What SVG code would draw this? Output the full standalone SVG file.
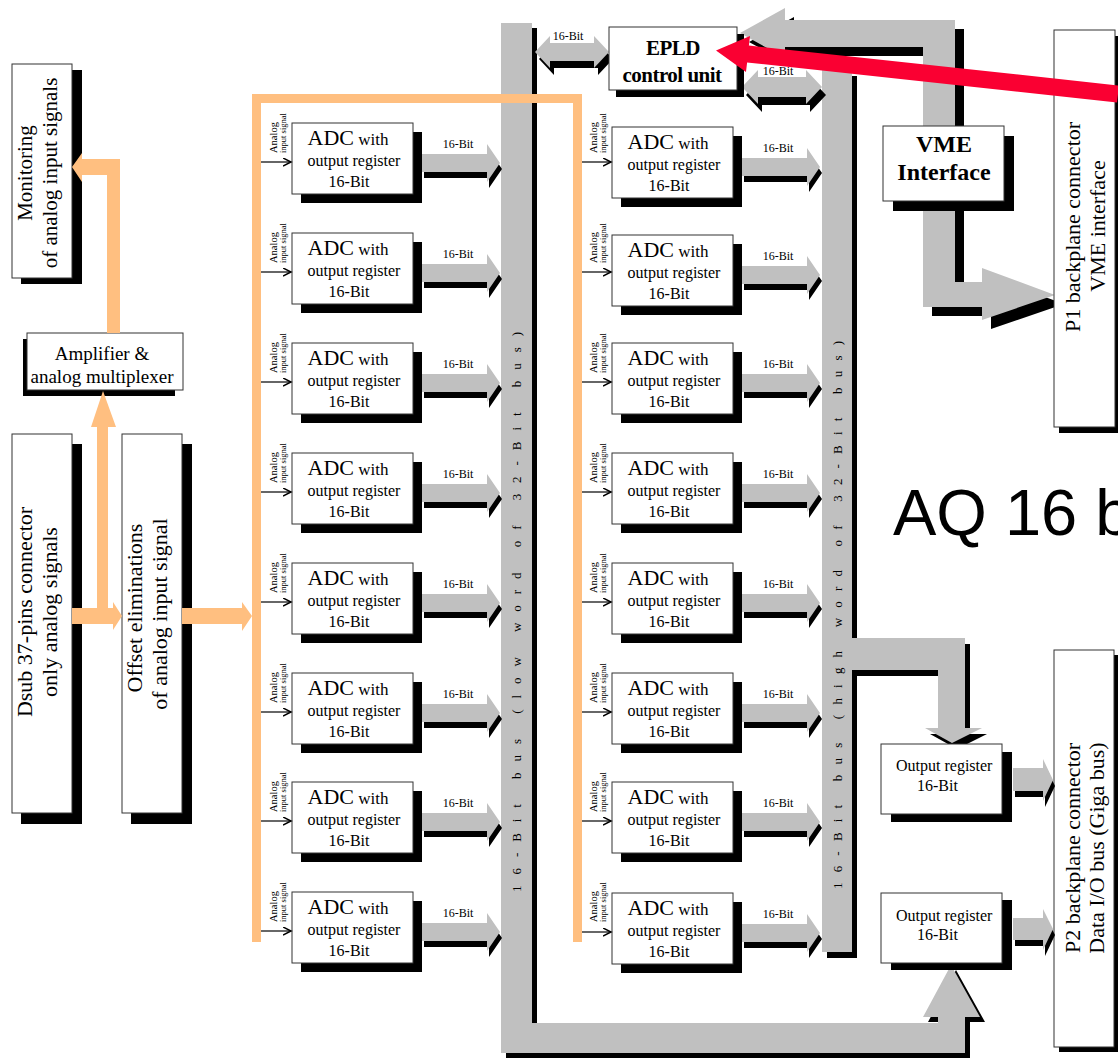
<svg xmlns="http://www.w3.org/2000/svg" width="1118" height="1058" viewBox="0 0 1118 1058">
<style>
.box{fill:#fff;stroke:#333;stroke-width:1}
.sh{fill:#000}
.g{fill:#c0c0c0}
.o{fill:#ffbf80}
.t{font-family:"Liberation Serif","Times New Roman",serif;fill:#000}
.b{font-weight:bold}
.an{stroke:#000;stroke-width:1.2;fill:none}
.lb{font-size:12px}
.m{text-anchor:middle}
</style>
<defs>
<marker id="ah" markerWidth="10" markerHeight="10" refX="8" refY="4" orient="auto" markerUnits="userSpaceOnUse"><path d="M0,0 L8,4 L0,8" fill="none" stroke="#000" stroke-width="1.5"/></marker>
<g id="arr"><polygon points="0,31 65,31 65,21 78,40 65,59 65,49 0,49" transform="translate(2,6)" fill="#000"/><polygon class="g" points="0,31 65,31 65,21 78,40 65,59 65,49 0,49"/></g>
</defs>
<rect width="1118" height="1058" fill="#fff"/>

<g id="connectors-bus">
<polygon class="sh" transform="translate(5,5)" points="501,23 532,23 532,1023 938,1023 938,1017 923,1017 951,965 980,1017 965,1017 965,1053 501,1053"/>
<polygon class="g" points="501,23 532,23 532,1023 938,1023 938,1017 923,1017 951,965 980,1017 965,1017 965,1053 501,1053"/>
<polygon class="sh" transform="translate(5,6)" points="822,70 852,70 852,638 965,638 965,728 982,728 952,743 925,728 938,728 938,670 852,670 852,952 822,952"/>
<polygon class="g" points="822,70 852,70 852,638 965,638 965,728 982,728 952,743 925,728 938,728 938,670 852,670 852,952 822,952"/>
<polygon class="sh" transform="translate(9,9)" points="740,33 785,8 785,20 955,20 955,282 982,282 982,268 1055,295 982,320 982,307 923,307 923,47 785,47 785,58"/>
<polygon class="g" points="740,33 785,8 785,20 955,20 955,282 982,282 982,268 1055,295 982,320 982,307 923,307 923,47 785,47 785,58"/>
<text class="t" font-size="13" transform="translate(521,612) rotate(-90)" text-anchor="middle" textLength="560" lengthAdjust="spacing">16-Bit bus (low word of 32-Bit bus)</text>
<text class="t" font-size="13" transform="translate(842,615) rotate(-90)" text-anchor="middle" textLength="548" lengthAdjust="spacing">16-Bit bus (high word of 32-Bit bus)</text>
<polygon class="sh" transform="translate(4,7)" points="535,52 550,36 550,43 594,43 594,36 609,52 594,68 594,61 550,61 550,68"/>
<polygon class="g" points="535,52 550,36 550,43 594,43 594,36 609,52 594,68 594,61 550,61 550,68"/>
<text class="t lb m" x="568" y="40">16-Bit</text>
<polygon class="sh" transform="translate(4,8)" points="742,87 758,70 758,77 806,77 806,70 822,87 806,104 806,97 758,97 758,104"/>
<polygon class="g" points="742,87 758,70 758,77 806,77 806,70 822,87 806,104 806,97 758,97 758,104"/>
<text class="t lb m" x="778" y="75">16-Bit</text>
<path class="o" d="M252,942 L252,94 L582,94 L582,942 L573,942 L573,103 L261,103 L261,942 Z"/>
</g>

<g id="monitoring"><rect class="sh" x="21" y="70" width="61" height="214"/><rect class="box" x="12" y="64" width="60" height="214"/>
<text class="t m" font-size="21" transform="translate(32,173) rotate(-90)">Monitoring</text>
<text class="t m" font-size="21" transform="translate(57,173) rotate(-90)">of analog input signals</text></g>

<g id="amplifier"><rect class="sh" x="23" y="339" width="152" height="57"/><rect class="box" x="27" y="333" width="156" height="57"/>
<text class="t m" font-size="19" x="102" y="360">Amplifier &amp;</text>
<text class="t m" font-size="19" x="102" y="383">analog multiplexer</text></g>

<g id="dsub"><rect class="sh" x="21" y="444" width="61" height="380"/><rect class="box" x="12" y="434" width="60" height="379"/>
<text class="t m" font-size="22" transform="translate(32,612) rotate(-90)">Dsub 37-pins connector</text>
<text class="t m" font-size="22" transform="translate(57,612) rotate(-90)">only analog signals</text></g>

<g id="offset"><rect class="sh" x="131" y="444" width="61" height="380"/><rect class="box" x="122" y="434" width="60" height="379"/>
<text class="t m" font-size="22" transform="translate(142,608) rotate(-90)">Offset eliminations</text>
<text class="t m" font-size="22" transform="translate(167,614) rotate(-90)">of analog input signal</text></g>

<g id="epld"><rect class="sh" x="616" y="34" width="128" height="63"/><rect class="box" x="609" y="27" width="128" height="63"/>
<text class="t b m" font-size="21" x="673" y="55" letter-spacing="-0.5">EPLD</text>
<text class="t b m" font-size="21" x="672" y="82" letter-spacing="-0.5">control unit</text></g>

<g id="vme"><rect class="sh" x="893" y="136" width="121" height="75"/><rect class="box" x="883" y="126" width="121" height="75"/>
<text class="t b m" font-size="24" x="944" y="152">VME</text>
<text class="t b m" font-size="24" x="944" y="180">Interface</text></g>

<g id="p1"><rect class="sh" x="1059" y="36" width="61" height="397"/><rect class="box" x="1054" y="30" width="61" height="397"/>
<text class="t m" font-size="22" transform="translate(1080,227) rotate(-90)">P1 backplane connector</text>
<text class="t m" font-size="22" transform="translate(1105,226) rotate(-90)">VME interface</text></g>

<g id="p2"><rect class="sh" x="1059" y="655" width="60" height="397"/><rect class="box" x="1054" y="650" width="60" height="397"/>
<text class="t m" font-size="22" transform="translate(1080,848) rotate(-90)">P2 backplane connector</text>
<text class="t m" font-size="22" transform="translate(1104,848) rotate(-90)">Data I/O bus (Giga bus)</text></g>

<g id="outreg1"><rect class="sh" x="891" y="752" width="121" height="70"/><rect class="box" x="881" y="744" width="121" height="70"/>
<text class="t" font-size="16" x="896" y="771">Output register</text>
<text class="t" font-size="16" x="917" y="791">16-Bit</text></g>

<g id="outreg2"><rect class="sh" x="891" y="900" width="121" height="70"/><rect class="box" x="881" y="893" width="121" height="70"/>
<text class="t" font-size="16" x="896" y="921">Output register</text>
<text class="t" font-size="16" x="917" y="940">16-Bit</text></g>

<g id="adc-l1"><rect class="sh" x="301" y="132" width="121" height="71"/><rect class="box" x="292" y="123" width="121" height="71"/><text class="t m"><tspan x="348" y="145" font-size="22">ADC</tspan><tspan font-size="17"> with</tspan></text><text class="t m" font-size="16" x="354" y="166">output register</text><text class="t m" font-size="16" x="349" y="187">16-Bit</text></g>
<g id="adc-l2"><rect class="sh" x="301" y="242" width="121" height="71"/><rect class="box" x="292" y="233" width="121" height="71"/><text class="t m"><tspan x="348" y="255" font-size="22">ADC</tspan><tspan font-size="17"> with</tspan></text><text class="t m" font-size="16" x="354" y="276">output register</text><text class="t m" font-size="16" x="349" y="297">16-Bit</text></g>
<g id="adc-l3"><rect class="sh" x="301" y="352" width="121" height="71"/><rect class="box" x="292" y="343" width="121" height="71"/><text class="t m"><tspan x="348" y="365" font-size="22">ADC</tspan><tspan font-size="17"> with</tspan></text><text class="t m" font-size="16" x="354" y="386">output register</text><text class="t m" font-size="16" x="349" y="407">16-Bit</text></g>
<g id="adc-l4"><rect class="sh" x="301" y="462" width="121" height="71"/><rect class="box" x="292" y="453" width="121" height="71"/><text class="t m"><tspan x="348" y="475" font-size="22">ADC</tspan><tspan font-size="17"> with</tspan></text><text class="t m" font-size="16" x="354" y="496">output register</text><text class="t m" font-size="16" x="349" y="517">16-Bit</text></g>
<g id="adc-l5"><rect class="sh" x="301" y="572" width="121" height="71"/><rect class="box" x="292" y="563" width="121" height="71"/><text class="t m"><tspan x="348" y="585" font-size="22">ADC</tspan><tspan font-size="17"> with</tspan></text><text class="t m" font-size="16" x="354" y="606">output register</text><text class="t m" font-size="16" x="349" y="627">16-Bit</text></g>
<g id="adc-l6"><rect class="sh" x="301" y="682" width="121" height="71"/><rect class="box" x="292" y="673" width="121" height="71"/><text class="t m"><tspan x="348" y="695" font-size="22">ADC</tspan><tspan font-size="17"> with</tspan></text><text class="t m" font-size="16" x="354" y="716">output register</text><text class="t m" font-size="16" x="349" y="737">16-Bit</text></g>
<g id="adc-l7"><rect class="sh" x="301" y="791" width="121" height="71"/><rect class="box" x="292" y="782" width="121" height="71"/><text class="t m"><tspan x="348" y="804" font-size="22">ADC</tspan><tspan font-size="17"> with</tspan></text><text class="t m" font-size="16" x="354" y="825">output register</text><text class="t m" font-size="16" x="349" y="846">16-Bit</text></g>
<g id="adc-l8"><rect class="sh" x="301" y="901" width="121" height="71"/><rect class="box" x="292" y="892" width="121" height="71"/><text class="t m"><tspan x="348" y="914" font-size="22">ADC</tspan><tspan font-size="17"> with</tspan></text><text class="t m" font-size="16" x="354" y="935">output register</text><text class="t m" font-size="16" x="349" y="956">16-Bit</text></g>

<g id="adc-r1"><rect class="sh" x="621" y="136" width="121" height="71"/><rect class="box" x="612" y="127" width="121" height="71"/><text class="t m"><tspan x="668" y="149" font-size="22">ADC</tspan><tspan font-size="17"> with</tspan></text><text class="t m" font-size="16" x="674" y="170">output register</text><text class="t m" font-size="16" x="669" y="191">16-Bit</text></g>
<g id="adc-r2"><rect class="sh" x="621" y="244" width="121" height="71"/><rect class="box" x="612" y="235" width="121" height="71"/><text class="t m"><tspan x="668" y="257" font-size="22">ADC</tspan><tspan font-size="17"> with</tspan></text><text class="t m" font-size="16" x="674" y="278">output register</text><text class="t m" font-size="16" x="669" y="299">16-Bit</text></g>
<g id="adc-r3"><rect class="sh" x="621" y="352" width="121" height="71"/><rect class="box" x="612" y="343" width="121" height="71"/><text class="t m"><tspan x="668" y="365" font-size="22">ADC</tspan><tspan font-size="17"> with</tspan></text><text class="t m" font-size="16" x="674" y="386">output register</text><text class="t m" font-size="16" x="669" y="407">16-Bit</text></g>
<g id="adc-r4"><rect class="sh" x="621" y="462" width="121" height="71"/><rect class="box" x="612" y="453" width="121" height="71"/><text class="t m"><tspan x="668" y="475" font-size="22">ADC</tspan><tspan font-size="17"> with</tspan></text><text class="t m" font-size="16" x="674" y="496">output register</text><text class="t m" font-size="16" x="669" y="517">16-Bit</text></g>
<g id="adc-r5"><rect class="sh" x="621" y="572" width="121" height="71"/><rect class="box" x="612" y="563" width="121" height="71"/><text class="t m"><tspan x="668" y="585" font-size="22">ADC</tspan><tspan font-size="17"> with</tspan></text><text class="t m" font-size="16" x="674" y="606">output register</text><text class="t m" font-size="16" x="669" y="627">16-Bit</text></g>
<g id="adc-r6"><rect class="sh" x="621" y="682" width="121" height="71"/><rect class="box" x="612" y="673" width="121" height="71"/><text class="t m"><tspan x="668" y="695" font-size="22">ADC</tspan><tspan font-size="17"> with</tspan></text><text class="t m" font-size="16" x="674" y="716">output register</text><text class="t m" font-size="16" x="669" y="737">16-Bit</text></g>
<g id="adc-r7"><rect class="sh" x="621" y="791" width="121" height="71"/><rect class="box" x="612" y="782" width="121" height="71"/><text class="t m"><tspan x="668" y="804" font-size="22">ADC</tspan><tspan font-size="17"> with</tspan></text><text class="t m" font-size="16" x="674" y="825">output register</text><text class="t m" font-size="16" x="669" y="846">16-Bit</text></g>
<g id="adc-r8"><rect class="sh" x="621" y="902" width="121" height="71"/><rect class="box" x="612" y="893" width="121" height="71"/><text class="t m"><tspan x="668" y="915" font-size="22">ADC</tspan><tspan font-size="17"> with</tspan></text><text class="t m" font-size="16" x="674" y="936">output register</text><text class="t m" font-size="16" x="669" y="957">16-Bit</text></g>

<text class="t" x="893" y="535" font-family="Liberation Sans, Arial, sans-serif" style="font-family:'Liberation Sans',Arial,sans-serif" font-size="65">AQ 16 b</text>

<g id="connectors">
<polygon class="o" points="120,333 107,333 107,175 82,175 82,182 72,167 82,153 82,159 120,159"/>
<polygon class="o" points="72,608 97,608 97,427 91,427 103,391 116,427 108,427 108,608 113,608 113,602 122,616 113,630 113,624 72,624"/>
<polygon class="o" points="182,608 242,608 242,602 252,616 242,631 242,624 182,624"/>
<polygon class="sh" transform="translate(2,6)" points="1013,768 1043,768 1043,759 1053,780 1043,801 1043,791 1013,791"/>
<polygon class="g" points="1013,768 1043,768 1043,759 1053,780 1043,801 1043,791 1013,791"/>
<polygon class="sh" transform="translate(2,6)" points="1013,918 1043,918 1043,909 1053,929 1043,950 1043,940 1013,940"/>
<polygon class="g" points="1013,918 1043,918 1043,909 1053,929 1043,950 1043,940 1013,940"/>

<use href="#arr" x="422" y="123"/><use href="#arr" x="422" y="233"/><use href="#arr" x="422" y="343"/><use href="#arr" x="422" y="453"/><use href="#arr" x="422" y="563"/><use href="#arr" x="422" y="673"/><use href="#arr" x="422" y="782"/><use href="#arr" x="422" y="892"/>
<use href="#arr" x="742" y="127"/><use href="#arr" x="742" y="235"/><use href="#arr" x="742" y="343"/><use href="#arr" x="742" y="453"/><use href="#arr" x="742" y="563"/><use href="#arr" x="742" y="673"/><use href="#arr" x="742" y="782"/><use href="#arr" x="742" y="893"/>
<g class="t lb m">
<text x="458" y="148">16-Bit</text><text x="458" y="258">16-Bit</text><text x="458" y="368">16-Bit</text><text x="458" y="478">16-Bit</text><text x="458" y="588">16-Bit</text><text x="458" y="698">16-Bit</text><text x="458" y="807">16-Bit</text><text x="458" y="917">16-Bit</text>
<text x="778" y="152">16-Bit</text><text x="778" y="260">16-Bit</text><text x="778" y="368">16-Bit</text><text x="778" y="478">16-Bit</text><text x="778" y="588">16-Bit</text><text x="778" y="698">16-Bit</text><text x="778" y="807">16-Bit</text><text x="778" y="918">16-Bit</text>
</g>
<g class="an">
<line x1="261" y1="162" x2="291" y2="162" marker-end="url(#ah)"/><line x1="261" y1="272" x2="291" y2="272" marker-end="url(#ah)"/><line x1="261" y1="382" x2="291" y2="382" marker-end="url(#ah)"/><line x1="261" y1="492" x2="291" y2="492" marker-end="url(#ah)"/><line x1="261" y1="602" x2="291" y2="602" marker-end="url(#ah)"/><line x1="261" y1="712" x2="291" y2="712" marker-end="url(#ah)"/><line x1="261" y1="821" x2="291" y2="821" marker-end="url(#ah)"/><line x1="261" y1="931" x2="291" y2="931" marker-end="url(#ah)"/>
<line x1="582" y1="162" x2="611" y2="162" marker-end="url(#ah)"/><line x1="582" y1="272" x2="611" y2="272" marker-end="url(#ah)"/><line x1="582" y1="382" x2="611" y2="382" marker-end="url(#ah)"/><line x1="582" y1="492" x2="611" y2="492" marker-end="url(#ah)"/><line x1="582" y1="602" x2="611" y2="602" marker-end="url(#ah)"/><line x1="582" y1="712" x2="611" y2="712" marker-end="url(#ah)"/><line x1="582" y1="821" x2="611" y2="821" marker-end="url(#ah)"/><line x1="582" y1="932" x2="611" y2="932" marker-end="url(#ah)"/>
</g>
<g class="t">
<text font-size="10.5" transform="translate(277,153) rotate(-90)">Analog</text><text font-size="8.5" transform="translate(286,153) rotate(-90)">input signal</text>
<text font-size="10.5" transform="translate(277,263) rotate(-90)">Analog</text><text font-size="8.5" transform="translate(286,263) rotate(-90)">input signal</text>
<text font-size="10.5" transform="translate(277,373) rotate(-90)">Analog</text><text font-size="8.5" transform="translate(286,373) rotate(-90)">input signal</text>
<text font-size="10.5" transform="translate(277,483) rotate(-90)">Analog</text><text font-size="8.5" transform="translate(286,483) rotate(-90)">input signal</text>
<text font-size="10.5" transform="translate(277,593) rotate(-90)">Analog</text><text font-size="8.5" transform="translate(286,593) rotate(-90)">input signal</text>
<text font-size="10.5" transform="translate(277,703) rotate(-90)">Analog</text><text font-size="8.5" transform="translate(286,703) rotate(-90)">input signal</text>
<text font-size="10.5" transform="translate(277,812) rotate(-90)">Analog</text><text font-size="8.5" transform="translate(286,812) rotate(-90)">input signal</text>
<text font-size="10.5" transform="translate(277,922) rotate(-90)">Analog</text><text font-size="8.5" transform="translate(286,922) rotate(-90)">input signal</text>
<text font-size="10.5" transform="translate(597,153) rotate(-90)">Analog</text><text font-size="8.5" transform="translate(606,153) rotate(-90)">input signal</text>
<text font-size="10.5" transform="translate(597,263) rotate(-90)">Analog</text><text font-size="8.5" transform="translate(606,263) rotate(-90)">input signal</text>
<text font-size="10.5" transform="translate(597,373) rotate(-90)">Analog</text><text font-size="8.5" transform="translate(606,373) rotate(-90)">input signal</text>
<text font-size="10.5" transform="translate(597,483) rotate(-90)">Analog</text><text font-size="8.5" transform="translate(606,483) rotate(-90)">input signal</text>
<text font-size="10.5" transform="translate(597,593) rotate(-90)">Analog</text><text font-size="8.5" transform="translate(606,593) rotate(-90)">input signal</text>
<text font-size="10.5" transform="translate(597,703) rotate(-90)">Analog</text><text font-size="8.5" transform="translate(606,703) rotate(-90)">input signal</text>
<text font-size="10.5" transform="translate(597,812) rotate(-90)">Analog</text><text font-size="8.5" transform="translate(606,812) rotate(-90)">input signal</text>
<text font-size="10.5" transform="translate(597,922) rotate(-90)">Analog</text><text font-size="8.5" transform="translate(606,922) rotate(-90)">input signal</text>
</g>
<polygon fill="#fa0032" points="1119,85.5 748.9,45.5 750,36 716,50.6 746,72 747.1,62.5 1117,102.5"/>
</g>
</svg>
